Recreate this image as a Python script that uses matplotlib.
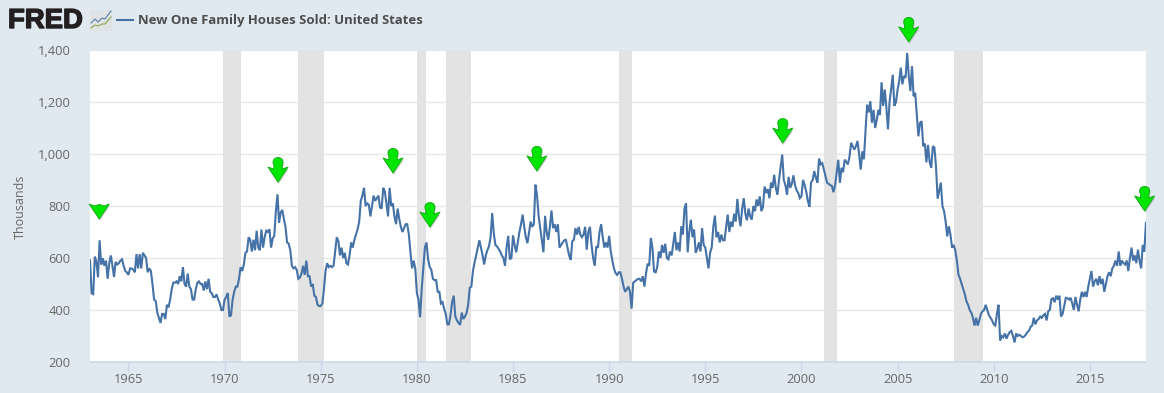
import matplotlib
matplotlib.use("Agg")
import matplotlib.pyplot as plt
import matplotlib.patheffects as pe
import pandas as pd
from matplotlib.path import Path

# monthly new houses sold, thousands, one row per year from 1963
sold = [
    591, 464, 461, 605, 586, 526, 668, 575, 599, 570, 590, 520,
    580, 610, 570, 527, 585, 575, 580, 590, 595, 570, 550, 545,
    535, 560, 560, 555, 545, 615, 560, 615, 560, 620, 610, 600,
    545, 560, 550, 500, 440, 435, 390, 370, 350, 385, 385, 365,
    420, 410, 440, 480, 505, 505, 510, 500, 530, 510, 565, 500,
    490, 540, 490, 480, 440, 440, 480, 505, 510, 500, 500, 475,
    510, 480, 520, 470, 465, 450, 450, 460, 440, 425, 400, 400,
    440, 450, 465, 375, 380, 440, 470, 490, 490, 520, 565, 550,
    575, 620, 625, 680, 670, 625, 670, 630, 705, 640, 630, 710,
    640, 680, 705, 700, 710, 640, 675, 685, 780, 845, 735, 775,
    785, 750, 720, 660, 655, 630, 570, 560, 565, 555, 520, 525,
    540, 570, 535, 590, 530, 530, 490, 500, 455, 450, 420, 415,
    415, 425, 480, 550, 580, 565, 570, 565, 570, 625, 680, 665,
    610, 640, 600, 620, 580, 575, 610, 660, 640, 670, 690, 710,
    740, 820, 840, 870, 800, 810, 805, 760, 800, 840, 820, 830,
    840, 795, 790, 870, 855, 810, 760, 870, 800, 810, 760, 730,
    790, 750, 720, 700, 715, 730, 730, 690, 620, 560, 590, 560,
    465, 440, 372, 480, 560, 640, 660, 595, 565, 555, 520, 515,
    515, 470, 470, 425, 430, 405, 385, 345, 345, 380, 430, 455,
    375, 360, 350, 343, 390, 365, 375, 388, 420, 485, 490, 550,
    583, 610, 640, 668, 640, 610, 575, 610, 630, 645, 680, 773,
    695, 650, 645, 635, 625, 610, 600, 570, 640, 685, 595, 600,
    687, 650, 622, 660, 700, 730, 767, 720, 680, 657, 700, 740,
    720, 730, 882, 840, 760, 715, 670, 622, 762, 700, 670, 720,
    783, 715, 730, 700, 730, 640, 650, 660, 668, 670, 640, 610,
    593, 665, 670, 715, 690, 720, 690, 680, 690, 720, 632, 700,
    720, 650, 600, 570, 645, 640, 700, 730, 680, 640, 660, 640,
    685, 625, 590, 560, 542, 535, 545, 545, 520, 490, 470, 480,
    490, 470, 405, 505, 510, 515, 520, 520, 510, 530, 490, 540,
    578, 570, 677, 640, 548, 545, 565, 625, 600, 650, 620, 655,
    600, 595, 625, 610, 655, 700, 630, 660, 625, 722, 690, 790,
    810, 622, 700, 747, 680, 710, 620, 635, 660, 625, 715, 650,
    640, 600, 560, 620, 640, 720, 763, 680, 700, 660, 690, 668,
    668, 720, 767, 700, 740, 720, 770, 740, 827, 760, 722, 790,
    830, 770, 745, 790, 760, 748, 800, 780, 825, 800, 837, 780,
    796, 875, 850, 865, 830, 890, 870, 920, 870, 843, 900, 950,
    998, 900, 880, 843, 912, 870, 885, 918, 880, 860, 850, 830,
    837, 900, 880, 855, 820, 797, 890, 900, 934, 910, 890, 982,
    960, 965, 940, 915, 890, 885, 880, 877, 853, 880, 930, 978,
    889, 947, 930, 978, 970, 960, 990, 1043, 1030, 1017, 1030, 1050,
    1000, 940, 1010, 980, 1090, 1190, 1160, 1203, 1120, 1170, 1100, 1130,
    1170, 1150, 1276, 1185, 1248, 1180, 1095, 1200, 1250, 1305, 1185, 1200,
    1248, 1280, 1332, 1268, 1300, 1293, 1389, 1300, 1242, 1338, 1222, 1235,
    1150, 1068, 1120, 1126, 1030, 1040, 968, 1035, 970, 947, 1030, 1025,
    950, 828, 860, 890, 800, 780, 740, 683, 722, 690, 640, 650,
    630, 590, 536, 520, 500, 480, 460, 433, 420, 400, 390, 370,
    340, 370, 340, 360, 385, 395, 400, 420, 400, 380, 370, 360,
    345, 340, 385, 420, 283, 300, 295, 310, 290, 305, 315, 320,
    300, 275, 310, 300, 305, 300, 295, 298, 305, 315, 320, 335,
    340, 370, 345, 360, 365, 375, 370, 380, 385, 360, 395, 400,
    442, 445, 430, 455, 440, 455, 375, 385, 415, 447, 445, 440,
    447, 425, 400, 450, 420, 395, 440, 470, 450, 470, 450, 490,
    520, 550, 490, 510, 520, 495, 530, 500, 520, 470, 500, 530,
    545, 530, 560, 570, 590, 570, 625, 570, 590, 580, 575, 590,
    550, 600, 640, 590, 610, 580, 632, 590, 560, 650, 625, 735,
]
recession_start = [1969.92, 1973.83, 1980.0, 1981.5, 1990.5, 2001.17, 2007.92]
recession_end = [1970.83, 1975.17, 1980.5, 1982.83, 1991.17, 2001.83, 2009.42]
arrow_x = [1972.78, 1978.76, 1980.68, 1986.24, 1999.03, 2005.58, 2017.85]
arrow_y = [892, 927, 719, 935, 1042, 1431, 781]
first_arrow_x = [1963.48]
first_arrow_y = [750]
y_ticks = [200, 400, 600, 800, 1000, 1200, 1400]
x_ticks = [1965, 1970, 1975, 1980, 1985, 1990, 1995, 2000, 2005, 2010, 2015]
series_name = "New One Family Houses Sold: United States"

W, H = 1164, 393
BG = "#e1e9f0"
LINE = "#4572a7"
GREY = "#666666"

plt.rcParams["font.family"] = ["Open Sans", "DejaVu Sans"]

months = pd.date_range("1963-01-01", periods=len(sold), freq="MS")
years = months.year + (months.month - 1) / 12

fig = plt.figure(figsize=(W / 100, H / 100), dpi=100, facecolor=BG)
ax = fig.add_axes([90 / W, 1 - 362 / H, (1146 - 90) / W, 312 / H])
ax.set_facecolor("white")
ax.set_xlim(1963.0, 2017.92)
ax.set_ylim(200, 1400)

ax.grid(axis="y", color="#e6e6e6", lw=0.9, zorder=1)
for a, b in zip(recession_start, recession_end):
    ax.axvspan(a, b, color="#e3e3e3", lw=0, zorder=2)
ax.plot(years, sold, color=LINE, lw=1.5, solid_joinstyle="miter", zorder=3)

# green arrows sit on top of the chart, tip at the given point, round top on the stem
arrow = Path(
    [(0, 0), (10, 15), (4.2, 13), (4.2, 17), (5, 19), (5, 20), (5, 26), (-5, 26), (-5, 20),
     (-5, 19), (-4.2, 17), (-4.2, 13), (-10, 15), (0, 0)],
    [Path.MOVETO, Path.LINETO, Path.LINETO, Path.LINETO, Path.LINETO, Path.LINETO,
     Path.CURVE4, Path.CURVE4, Path.CURVE4,
     Path.LINETO, Path.LINETO, Path.LINETO, Path.LINETO, Path.CLOSEPOLY],
)
head = Path([(0, 0), (10, 15), (5, 13), (0, 14.5), (-5, 13), (-10, 15), (0, 0)])
shadow = [pe.withSimplePatchShadow(offset=(0.5, -1.5), shadow_rgbFace="#777777", alpha=0.3)]
ax.plot(arrow_x, arrow_y, ls="", marker=arrow, ms=37.4, mfc="#00e600", mec="#15b015", mew=0.7,
        clip_on=False, zorder=5, path_effects=shadow)
ax.plot(first_arrow_x, first_arrow_y, ls="", marker=head, ms=21.6, mfc="#00e600", mec="#15b015", mew=0.7,
        clip_on=False, zorder=5, path_effects=shadow)

for s in ["top", "left", "right"]:
    ax.spines[s].set_visible(False)
ax.spines["bottom"].set_color("#ccd6eb")
ax.spines["bottom"].set_linewidth(1.1)
ax.set_xticks(x_ticks)
ax.set_xticklabels([str(t) for t in x_ticks])
ax.set_yticks(y_ticks)
ax.set_yticklabels([f"{t:,}" for t in y_ticks])
ax.tick_params(axis="x", length=7, width=1, color="#ccd6eb", labelsize=9.3, labelcolor=GREY, pad=1)
ax.tick_params(axis="y", length=0, labelsize=9.3, labelcolor=GREY, pad=14)

fig.text(20.5 / W, 1 - 207 / H, "Thousands", rotation=90, ha="center", va="center", fontsize=9, color=GREY)

# header: logo word, small logo chart, legend key and series name
fig.text(8 / W, 1 - 21 / H, "FRED", ha="left", va="center", fontsize=19.8, fontweight="bold",
         color="#231f20", family=["Liberation Sans", "DejaVu Sans"],
         path_effects=[pe.withStroke(linewidth=1, foreground="#231f20")])
icon = fig.add_axes([90 / W, 1 - 31 / H, 22 / W, 21 / H])
icon.set_facecolor("#dfe3e6")
icon.set_xticks([])
icon.set_yticks([])
for s in icon.spines.values():
    s.set_visible(False)
icon.set_xlim(0, 22)
icon.set_ylim(0, 21)
icon.plot([1, 5, 8, 12, 15, 21], [8, 12, 9, 13, 12, 20], color="#5a7fa8", lw=0.8)
icon.plot([1, 5, 8, 12, 15, 21], [3, 6, 5, 7, 7, 14], color="#8aa84f", lw=0.8)
fig.add_artist(plt.Line2D([117 / W, 133 / W], [1 - 20 / H, 1 - 20 / H], color=LINE, lw=1.5))
fig.text(138.5 / W, 1 - 20.5 / H, series_name, ha="left", va="center", fontsize=9.45, fontweight="bold", color="#4d4d4d")

fig.savefig("out.png", dpi=100, facecolor=BG)
